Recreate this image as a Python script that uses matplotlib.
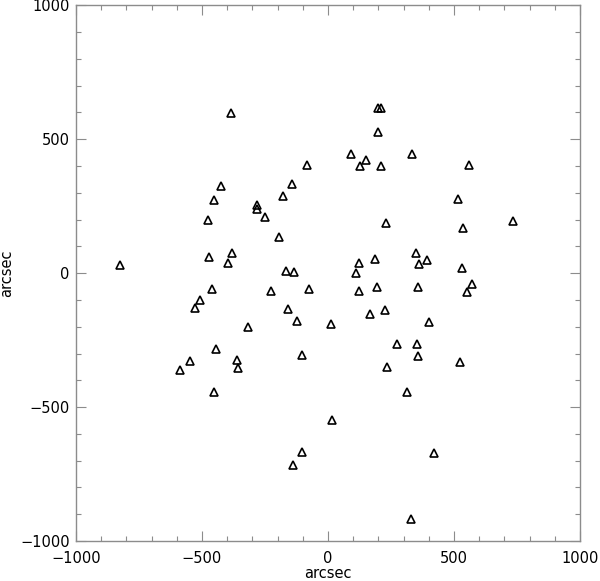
import matplotlib
matplotlib.use("Agg")
import matplotlib.pyplot as plt
from matplotlib.ticker import MultipleLocator

x_arcsec = [-824, -386, -426, -454, -475, -283, -283, -252, -142, -180,
            -196, -472, -381, -398, -167, -135, 198, 209, 200, 91,
            151, 127, 210, 334, 559, -85, 516, 229, 537, 735,
            350, 394, 360, 188, 123, 112, 532, 573, -509, -529,
            -459, -228, -159, -123, -319, -444, -549, -588, -363, -357,
            -454, -105, -104, -138, 552, 167, 225, 12, 401, 274,
            354, 357, 236, 524, 313, 17, 421, 329, -77, 121,
            196, 357]
y_arcsec = [31, 597, 326, 273, 199, 255, 239, 209, 333, 290,
            135, 60, 75, 37, 10, 6, 618, 618, 527, 445,
            421, 399, 401, 445, 405, 404, 276, 189, 168, 193,
            76, 50, 34, 53, 38, 2, 19, -40, -100, -131,
            -60, -67, -133, -177, -201, -284, -327, -363, -324, -353,
            -444, -306, -668, -715, -71, -151, -136, -188, -182, -263,
            -264, -309, -351, -332, -443, -547, -673, -917, -60, -65,
            -50, -52]

plt.rcParams['font.family'] = ['DejaVu Sans']
fig = plt.figure(figsize=(6.0, 5.81), dpi=100)
ax = fig.add_axes([0.1267, 0.0688, 0.84, 0.922])

ax.plot(x_arcsec, y_arcsec, linestyle='none', marker='^', markersize=6.2,
        markerfacecolor='none', markeredgecolor='black', markeredgewidth=1.2)

ax.set_xlim(-1000, 1000)
ax.set_ylim(-1000, 1000)
ax.xaxis.set_major_locator(MultipleLocator(500))
ax.yaxis.set_major_locator(MultipleLocator(500))
ax.xaxis.set_minor_locator(MultipleLocator(100))
ax.yaxis.set_minor_locator(MultipleLocator(100))

gray = '#8c8c8c'
for s in ax.spines.values():
    s.set_color(gray)
    s.set_linewidth(1.0)
ax.tick_params(which='both', direction='in', top=True, right=True, color=gray, width=0.8)
ax.tick_params(which='major', length=7)
ax.tick_params(which='minor', length=3.6)
ax.tick_params(axis='x', which='major', pad=7, labelsize=10.5)
ax.tick_params(axis='y', which='major', pad=4.5, labelsize=10.5)

ax.set_xlabel('arcsec', fontsize=10.5, labelpad=0)
ax.set_ylabel('arcsec', fontsize=10.5, labelpad=4)

fig.savefig('out.png', dpi=100)
